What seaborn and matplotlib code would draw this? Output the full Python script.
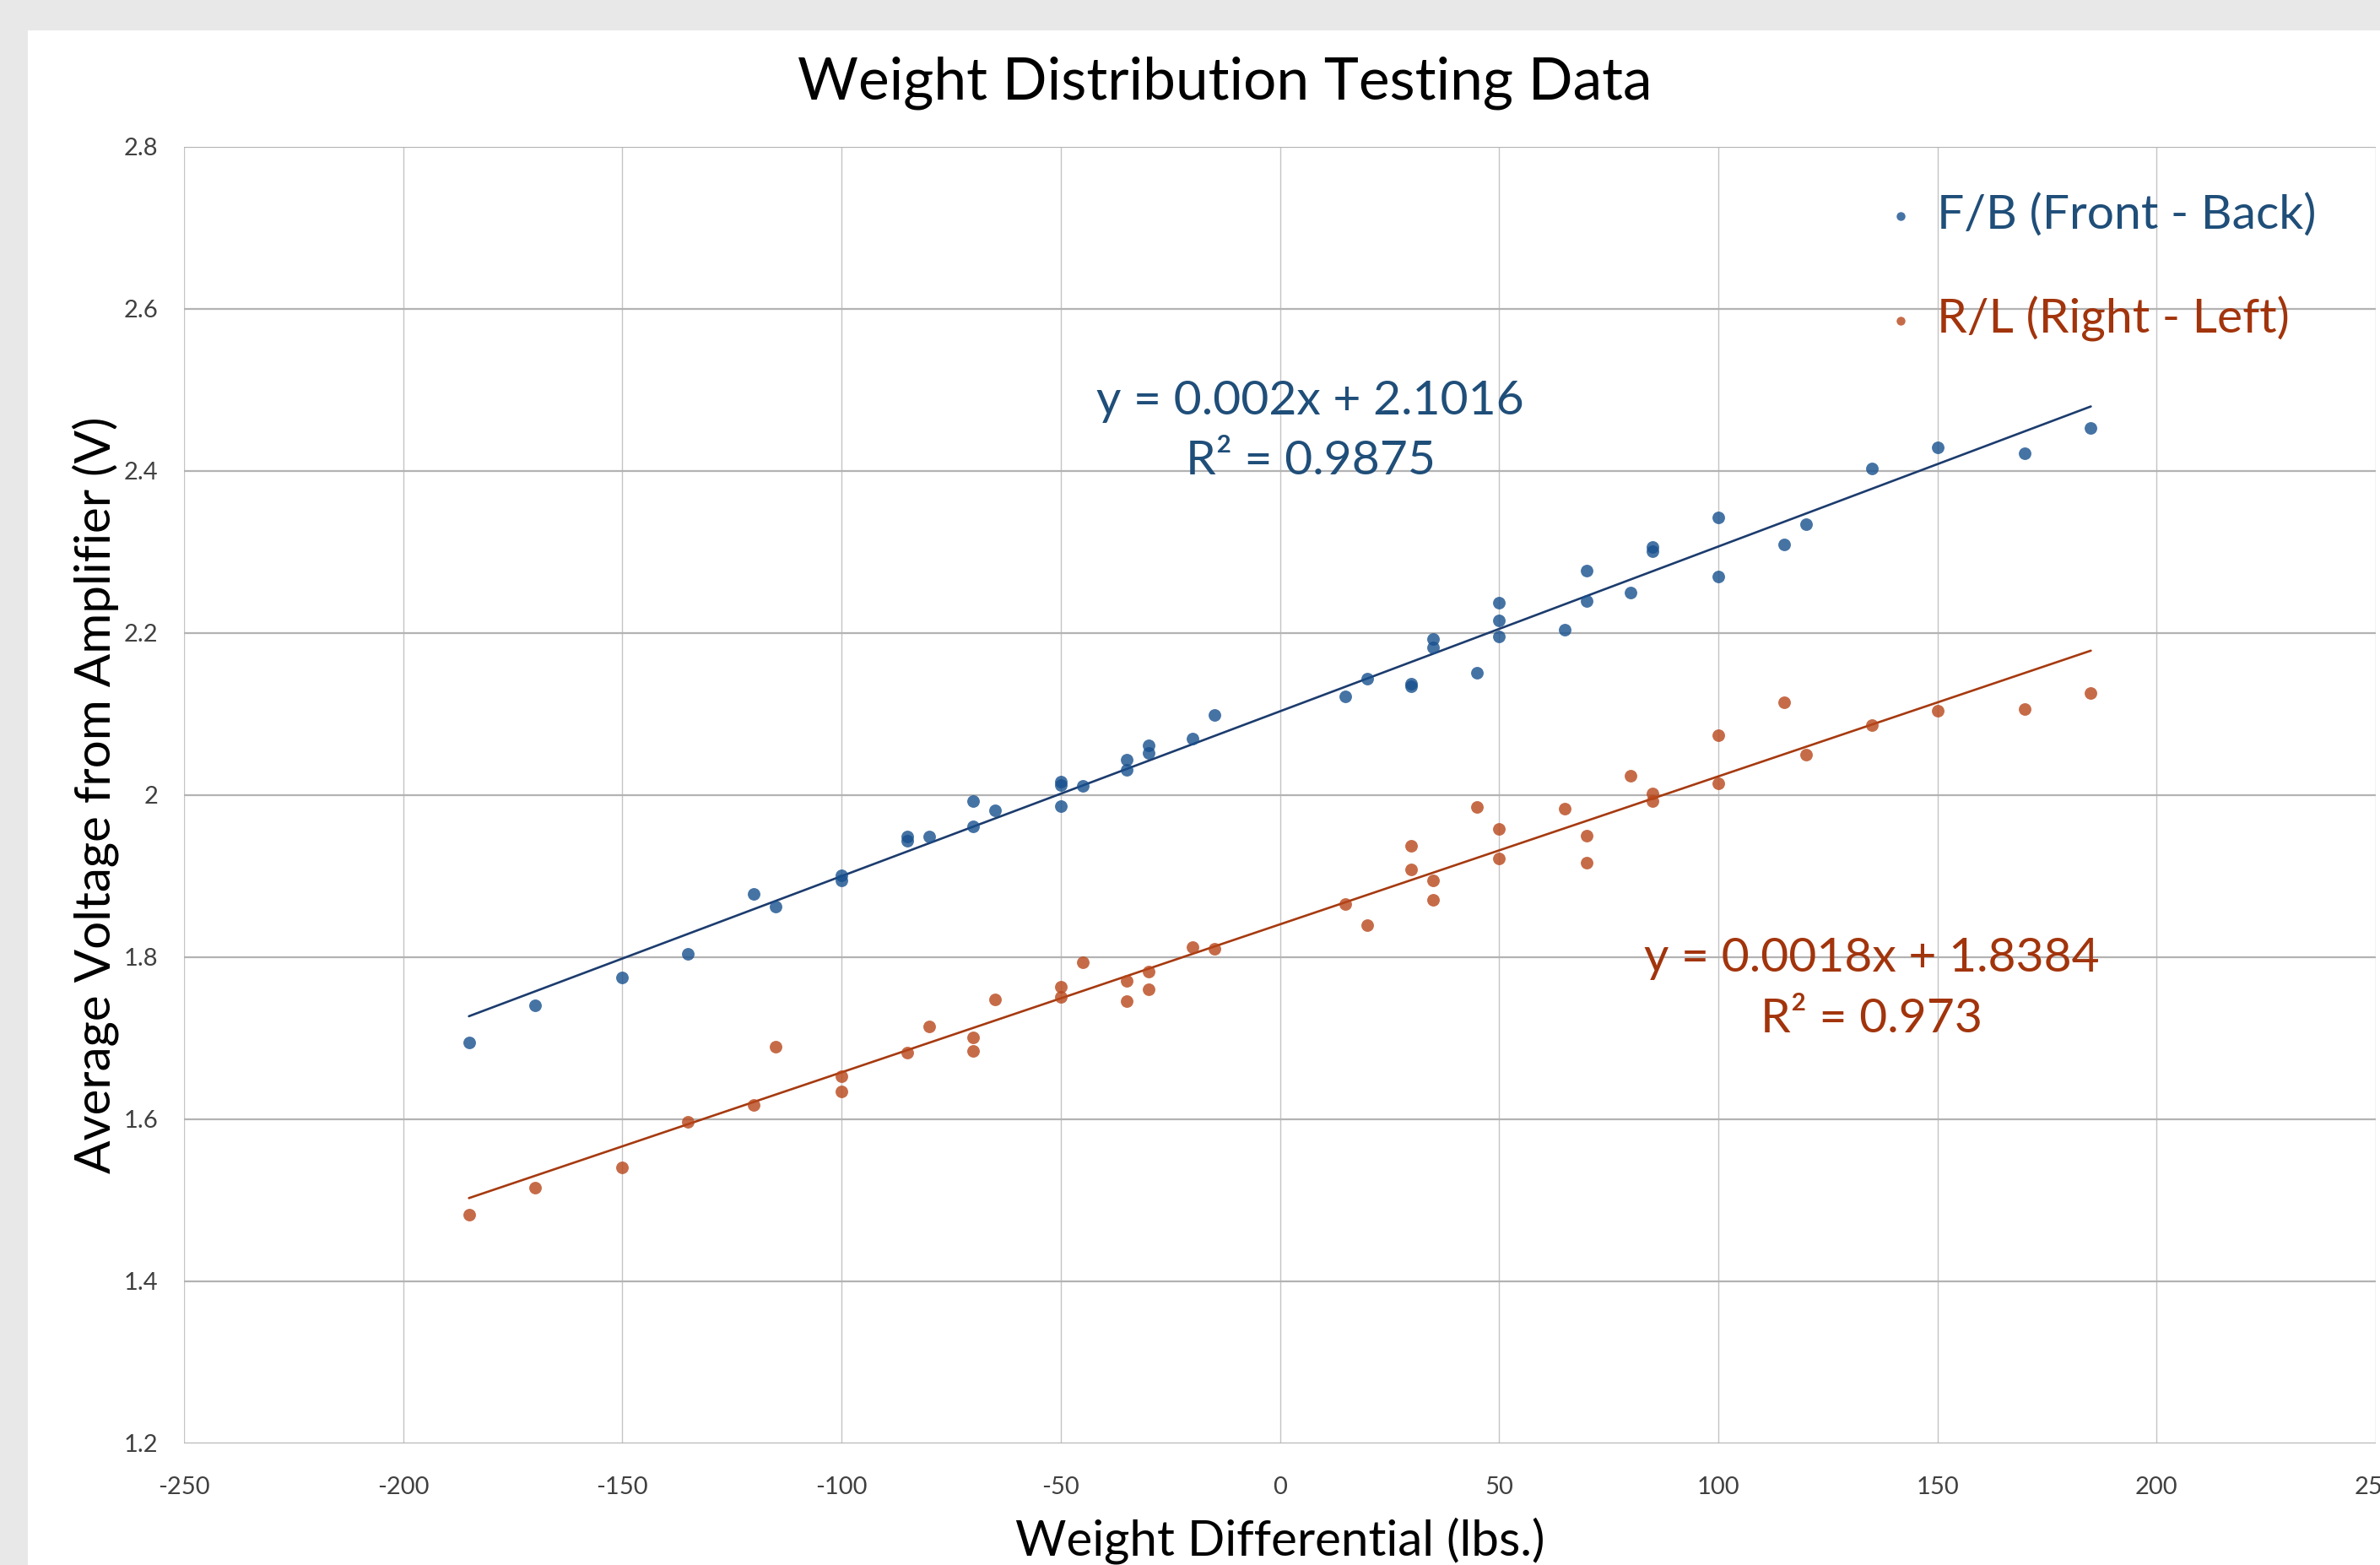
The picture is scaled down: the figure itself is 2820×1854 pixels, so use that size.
import numpy as np
import pandas as pd
import seaborn as sns
import matplotlib.pyplot as plt
from matplotlib.patches import Rectangle

# data
fb_x = [-185, -170, -150, -135, -120, -115, -100, -100, -85, -85, -80, -70, -70, -65,
        -50, -50, -50, -45, -35, -35, -30, -30, -20, -15, 15, 20, 30, 30, 35, 35, 45,
        50, 50, 50, 65, 70, 70, 80, 85, 85, 100, 100, 115, 120, 135, 150, 170, 185]
fb_y = [1.695, 1.741, 1.775, 1.804, 1.878, 1.862, 1.901, 1.895, 1.949, 1.944, 1.949,
        1.993, 1.961, 1.981, 2.017, 2.012, 1.986, 2.011, 2.044, 2.031, 2.061, 2.052,
        2.070, 2.099, 2.122, 2.144, 2.138, 2.134, 2.193, 2.182, 2.151, 2.237, 2.216,
        2.196, 2.204, 2.277, 2.240, 2.250, 2.306, 2.301, 2.343, 2.270, 2.309, 2.334,
        2.403, 2.429, 2.422, 2.453]

rl_x = [-185, -170, -150, -135, -120, -115, -100, -100, -85, -80, -70, -70, -65, -50,
        -50, -45, -35, -35, -30, -30, -20, -15, 15, 20, 30, 30, 35, 35, 45, 50, 50, 65,
        70, 70, 80, 85, 85, 100, 100, 115, 120, 135, 150, 170, 185]
rl_y = [1.482, 1.516, 1.541, 1.597, 1.618, 1.690, 1.653, 1.634, 1.682, 1.715, 1.701,
        1.684, 1.748, 1.764, 1.751, 1.794, 1.771, 1.746, 1.782, 1.760, 1.813, 1.810,
        1.866, 1.840, 1.938, 1.908, 1.895, 1.871, 1.985, 1.958, 1.922, 1.983, 1.950,
        1.917, 2.024, 2.002, 1.993, 2.074, 2.015, 2.115, 2.050, 2.086, 2.104, 2.106,
        2.126]

labels = ['F/B (Front - Back)', 'R/L (Right - Left)']
eq_text = ['y = 0.002x + 2.1016\nR² = 0.9875', 'y = 0.0018x + 1.8384\nR² = 0.973']

x_ticks = np.arange(-250, 251, 50)
y_ticks = [1.2, 1.4, 1.6, 1.8, 2, 2.2, 2.4, 2.6, 2.8]
y_tick_labels = ['1.2', '1.4', '1.6', '1.8', '2', '2.2', '2.4', '2.6', '2.8']

pt_colors = ['#17508e', '#b8461a']
line_colors = ['#1c3c6e', '#a63a10']
text_colors = ['#1f4e79', '#a2340c']

sns.set_style('white')
plt.rcParams['font.family'] = ['Lato', 'DejaVu Sans']
plt.rcParams['axes.unicode_minus'] = False

fig = plt.figure(figsize=(28.2, 18.54), dpi=100)
fig.patch.set_facecolor('#e8e8e8')
fig.add_artist(Rectangle((33 / 2820, 0), 1, 1 - 36 / 1854, transform=fig.transFigure,
                         facecolor='white', edgecolor='none', zorder=0))

ax = fig.add_axes([218 / 2820, 144 / 1854, 2597 / 2820, 1536 / 1854])
ax.set_facecolor('white')

for xs, ys, lab, pc, lc in zip([fb_x, rl_x], [fb_y, rl_y], labels, pt_colors, line_colors):
    sns.regplot(x=np.array(xs), y=np.array(ys), ax=ax, ci=None, truncate=True, label=lab,
                scatter_kws=dict(s=115, color=pc, linewidths=0, zorder=3),
                line_kws=dict(color=lc, lw=1.9, zorder=2))

ax.set_xlim(-250, 250)
ax.set_ylim(1.2, 2.8)
ax.set_xticks(x_ticks)
ax.set_yticks(y_ticks)
ax.set_yticklabels(y_tick_labels)
ax.tick_params(length=0, labelsize=21, colors='#404040', pad=22)
ax.tick_params(axis='x', pad=28)
ax.xaxis.grid(True, color='#c4c4c4', lw=1.0)
ax.yaxis.grid(True, color='#b3b3b3', lw=1.6)
ax.set_axisbelow(True)
for s in ax.spines.values():
    s.set_visible(False)

ax.set_xlabel('Weight Differential (lbs.)', fontsize=42, labelpad=16, color='black')
ax.set_ylabel('Average Voltage from Amplifier (V)', fontsize=42, labelpad=4, color='black')

fig.text(1451 / 2820, 1 - 98 / 1854, 'Weight Distribution Testing Data',
         fontsize=50, ha='center', va='center', color='black')

# trendline equations
ax.text(7, 2.449, eq_text[0], fontsize=41, color=text_colors[0], ha='center', va='center',
        linespacing=1.5)
ax.text(135, 1.761, eq_text[1], fontsize=41, color=text_colors[1], ha='center', va='center',
        linespacing=1.5)

handles = ax.collections[:2]
leg = ax.legend(handles, labels, loc='upper left',
                bbox_to_anchor=(2238 / 2820, 1 - 229 / 1854),
                bbox_transform=fig.transFigure, frameon=False, fontsize=41,
                markerscale=0.7, handlelength=0.5, handletextpad=0.5,
                labelspacing=1.23, borderpad=0, borderaxespad=0)
for t, c in zip(leg.get_texts(), text_colors):
    t.set_color(c)

fig.savefig('out.png', dpi=100, facecolor=fig.get_facecolor())
